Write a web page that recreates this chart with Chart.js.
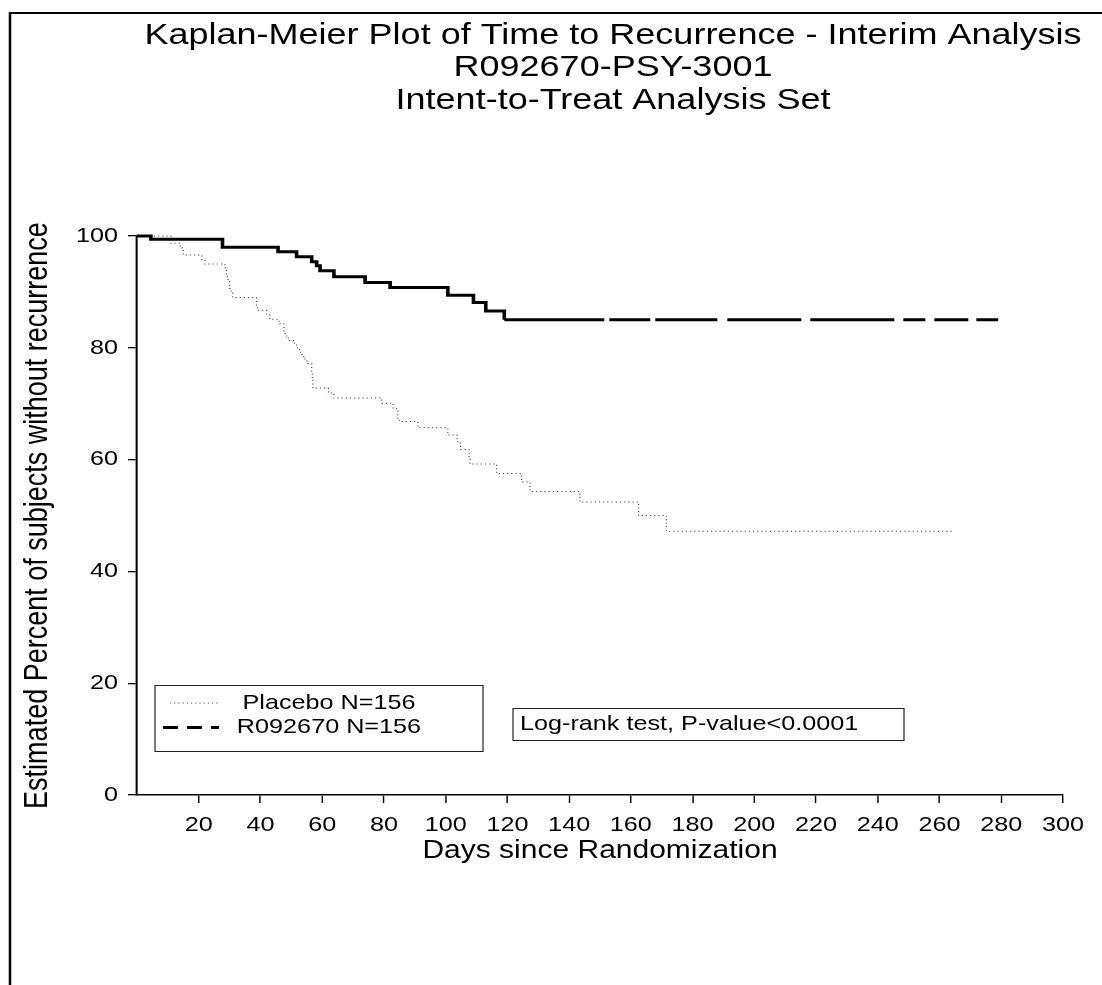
<!DOCTYPE html>
<html>
<head>
<meta charset="utf-8">
<script src="https://cdn.jsdelivr.net/npm/chart.js@4.4.1/dist/chart.umd.min.js"></script>
<style>
  body { margin: 0; background: #fff; }
  #wrap { width: 1102px; height: 985px; }
</style>
</head>
<body>
<div id="wrap"><canvas id="km"></canvas></div>
<script>
/* globals Chart */

// SAS output is a bit wider than plain Arial, so the whole picture is drawn with a horizontal stretch
const SX = 1.2;
const px = (x) => x / SX;

const titleLines = [
  "Kaplan-Meier Plot of Time to Recurrence - Interim Analysis",
  "R092670-PSY-3001",
  "Intent-to-Treat Analysis Set",
];
const xTitle = "Days since Randomization";
const yTitle = "Estimated Percent of subjects without recurrence";
const legendLabels = ["Placebo N=156", "R092670 N=156"];
const testNote = "Log-rank test, P-value<0.0001";

// Kaplan-Meier steps: day of event, estimated percent after it
const placeboDays = [0, 11, 14, 15, 21, 22, 28.5, 29, 29.5, 30, 30.5, 31, 38.7, 39, 42, 43, 46, 47.6, 48, 49,
  51, 52, 53, 54, 55, 56.6, 56.8, 57, 62, 63.8, 79.3, 83, 84.5, 85, 91, 100.7, 103.7, 104.8, 107.6, 107.9,
  116.5, 124.6, 127.3, 143.5, 162.5, 171.5, 264];
const placeboPct = [100, 98.7, 97.9, 96.6, 95.8, 95.0, 94.3, 92.7, 92.1, 90.6, 89.8, 89.0, 87.5, 86.7, 85.9, 85.1, 84.3, 82.9, 82.1, 81.3,
  80.5, 79.7, 78.8, 78.0, 77.2, 75.7, 74.2, 72.8, 71.9, 71.0, 70.1, 69.1, 67.4, 66.8, 65.7, 64.4, 63.2, 61.8, 60.4, 59.2,
  57.5, 56.0, 54.3, 52.4, 50.0, 47.2, 47.2];

const drugDays = [0, 4.5, 27.7, 45.7, 51.7, 56.6, 58.2, 59.3, 63.8, 73.9, 82, 100.7, 109, 113, 119, 279];
const drugPct = [100, 99.4, 98.0, 97.2, 96.3, 95.4, 94.7, 93.8, 92.7, 91.7, 90.8, 89.4, 88.1, 86.6, 85.0, 85.0];

const xTicks = [0, 20, 40, 60, 80, 100, 120, 140, 160, 180, 200, 220, 240, 260, 280, 300];
const yTicks = [0, 20, 40, 60, 80, 100];

// broken long-dash look of the plateau (breaks at censored times in the original)
const plateauDash = [100, 5, 41, 5, 62, 10, 74, 9, 84, 9, 22, 9, 34, 8, 30].map(px);

const FONT = '"Liberation Sans", Arial, sans-serif';
Chart.defaults.font.family = FONT;
Chart.defaults.color = "#000";

const toPoints = (days, pct) => days.map((d, i) => ({ x: d, y: pct[i] }));

const stretch = {
  id: "stretch",
  beforeDraw(chart) {
    chart.ctx.save();
    chart.ctx.scale(SX, 1);
  },
  afterDraw(chart) {
    const ctx = chart.ctx;

    // frame (only top and left edges show)
    ctx.strokeStyle = "#000";
    ctx.setLineDash([]);
    ctx.lineWidth = 2;
    ctx.beginPath();
    ctx.moveTo(px(9), 13);
    ctx.lineTo(chart.width, 13);
    ctx.stroke();
    ctx.lineWidth = px(2.5);
    ctx.beginPath();
    ctx.moveTo(px(10), 12);
    ctx.lineTo(px(10), chart.height);
    ctx.stroke();

    // title
    ctx.fillStyle = "#000";
    ctx.textAlign = "center";
    ctx.textBaseline = "middle";
    ctx.font = "30px " + FONT;
    titleLines.forEach((t, i) => ctx.fillText(t, px(613), 35.5 + i * 32.5));

    // legend box
    ctx.lineWidth = 1;
    ctx.strokeStyle = "#222";
    ctx.strokeRect(px(155), 685.5, px(328), 66);
    ctx.strokeStyle = "#555";
    ctx.setLineDash([1, 2.5]);
    ctx.beginPath();
    ctx.moveTo(px(170), 703);
    ctx.lineTo(px(220), 703);
    ctx.stroke();
    ctx.strokeStyle = "#000";
    ctx.lineWidth = 3;
    ctx.setLineDash([px(15), px(9)]);
    ctx.beginPath();
    ctx.moveTo(px(163), 727.5);
    ctx.lineTo(px(219), 727.5);
    ctx.stroke();
    ctx.setLineDash([]);
    ctx.font = "21px " + FONT;
    ctx.fillText(legendLabels[0], px(329), 703);
    ctx.fillText(legendLabels[1], px(329), 727.5);

    // test result box
    ctx.lineWidth = 1;
    ctx.strokeStyle = "#222";
    ctx.strokeRect(px(513), 708.5, px(391), 32);
    ctx.textAlign = "left";
    ctx.fillText(testNote, px(520), 724.5);

    ctx.restore();
  },
};

new Chart(document.getElementById("km"), {
  type: "line",
  plugins: [stretch],
  data: {
    datasets: [
      {
        label: legendLabels[1],
        data: toPoints(drugDays, drugPct),
        stepped: true,
        borderColor: "#000",
        borderWidth: 3,
        pointRadius: 0,
        clip: false,
        segment: {
          borderDash: (c) => (c.p0.parsed.x >= 119 ? plateauDash : undefined),
        },
      },
      {
        label: legendLabels[0],
        data: toPoints(placeboDays, placeboPct),
        stepped: true,
        borderColor: "#444",
        borderWidth: 1,
        borderDash: [1, 2.5],
        pointRadius: 0,
        clip: false,
      },
    ],
  },
  options: {
    responsive: true,
    maintainAspectRatio: false,
    animation: false,
    events: [],
    layout: {
      padding: { left: 0, top: 236, right: 1102 - px(1063), bottom: 0 },
    },
    plugins: {
      legend: { display: false },
      tooltip: { enabled: false },
      title: { display: false },
    },
    scales: {
      x: {
        type: "linear",
        min: 0,
        max: 300,
        afterBuildTicks: (scale) => {
          scale.ticks = xTicks.map((v) => ({ value: v }));
        },
        afterFit: (scale) => {
          scale.height = 190;
        },
        border: { display: true, color: "#000", width: 1.6 },
        grid: {
          drawOnChartArea: false,
          tickLength: 8,
          lineWidth: 1.2,
          color: (c) => (c.tick && c.tick.value === 0 ? "rgba(0,0,0,0)" : "#000"),
        },
        ticks: {
          padding: 10,
          maxRotation: 0,
          autoSkip: false,
          font: { size: 21 },
          callback: (v) => (v === 0 ? "" : v),
        },
        title: {
          display: true,
          text: xTitle,
          font: { size: 25 },
          padding: { top: 0, bottom: 119 },
        },
      },
      y: {
        min: 0,
        max: 100,
        afterBuildTicks: (scale) => {
          scale.ticks = yTicks.map((v) => ({ value: v }));
        },
        afterFit: (scale) => {
          scale.width = px(137);
        },
        border: { display: true, color: "#000", width: 1.7 },
        grid: {
          drawOnChartArea: false,
          tickLength: px(9),
          lineWidth: 1.3,
          color: "#000",
        },
        ticks: {
          padding: px(10),
          font: { size: 21 },
        },
        title: {
          display: true,
          text: yTitle,
          font: { size: 27 },
          padding: { top: 15.8, bottom: 0 },
        },
      },
    },
  },
});
</script>
</body>
</html>
